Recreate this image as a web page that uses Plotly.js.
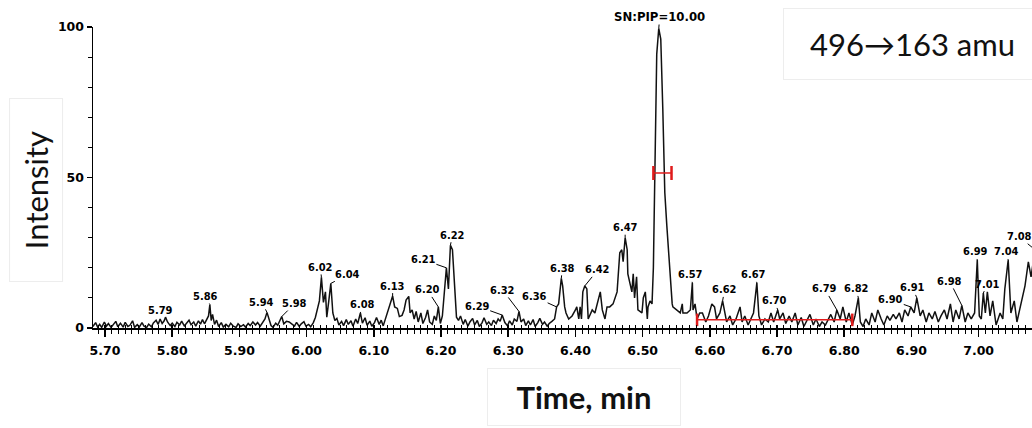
<!DOCTYPE html>
<html><head><meta charset="utf-8">
<script src="https://cdn.plot.ly/plotly-3.0.1.min.js"></script>
<style>html,body{margin:0;padding:0;overflow:hidden;background:#fff}#chart{width:1100px;height:428px}</style>
</head><body><div id="chart"></div><script>
// Retention time (min) and intensity (%)
const time = [
5.682,5.686,5.689,5.692,5.695,5.699,5.702,5.705,5.709,5.712,
5.716,5.719,5.723,5.727,5.730,5.734,5.737,5.741,5.744,5.748,
5.751,5.755,5.758,5.762,5.765,5.769,5.772,5.776,5.779,5.782,
5.785,5.788,5.790,5.793,5.797,5.800,5.804,5.807,5.811,5.814,
5.818,5.821,5.825,5.828,5.832,5.835,5.839,5.842,5.845,5.848,
5.851,5.854,5.856,5.858,5.860,5.863,5.866,5.869,5.873,5.876,
5.880,5.884,5.887,5.891,5.895,5.898,5.902,5.906,5.909,5.913,
5.916,5.920,5.924,5.927,5.931,5.935,5.938,5.941,5.944,5.947,
5.950,5.954,5.957,5.960,5.963,5.966,5.970,5.974,5.978,5.982,
5.985,5.989,5.992,5.996,5.999,6.003,6.006,6.010,6.013,6.016,
6.019,6.022,6.025,6.028,6.030,6.033,6.036,6.039,6.042,6.045,
6.048,6.052,6.055,6.059,6.062,6.066,6.069,6.073,6.076,6.080,
6.083,6.087,6.090,6.094,6.097,6.101,6.104,6.108,6.111,6.114,
6.118,6.121,6.124,6.128,6.131,6.135,6.138,6.142,6.145,6.148,
6.152,6.154,6.157,6.160,6.163,6.166,6.170,6.173,6.177,6.180,
6.183,6.187,6.190,6.193,6.196,6.199,6.202,6.205,6.208,6.211,
6.214,6.217,6.220,6.223,6.226,6.229,6.233,6.236,6.240,6.243,
6.247,6.250,6.254,6.257,6.261,6.264,6.268,6.271,6.275,6.278,
6.282,6.285,6.288,6.291,6.295,6.299,6.302,6.306,6.309,6.313,
6.316,6.319,6.323,6.326,6.330,6.333,6.337,6.340,6.344,6.347,
6.351,6.354,6.358,6.361,6.365,6.369,6.372,6.375,6.379,6.381,
6.384,6.386,6.390,6.395,6.400,6.402,6.405,6.407,6.409,6.411,
6.414,6.417,6.419,6.425,6.429,6.434,6.437,6.440,6.444,6.447,
6.451,6.456,6.462,6.466,6.469,6.471,6.474,6.477,6.478,6.484,
6.486,6.488,6.491,6.493,6.499,6.501,6.504,6.507,6.508,6.511,
6.514,6.516,6.518,6.521,6.524,6.527,6.530,6.533,6.536,6.539,
6.544,6.545,6.551,6.556,6.559,6.560,6.566,6.571,6.574,6.575,
6.578,6.581,6.585,6.589,6.594,6.598,6.603,6.607,6.610,6.615,
6.619,6.622,6.625,6.630,6.634,6.639,6.645,6.648,6.652,6.657,
6.661,6.665,6.670,6.673,6.677,6.682,6.687,6.691,6.695,6.701,
6.704,6.709,6.713,6.718,6.722,6.727,6.731,6.736,6.740,6.745,
6.749,6.754,6.758,6.763,6.767,6.772,6.776,6.780,6.785,6.789,
6.794,6.798,6.803,6.807,6.812,6.816,6.821,6.824,6.828,6.832,
6.837,6.841,6.846,6.850,6.855,6.859,6.864,6.868,6.873,6.877,
6.882,6.886,6.890,6.895,6.899,6.904,6.908,6.913,6.917,6.922,
6.926,6.931,6.935,6.940,6.944,6.949,6.953,6.958,6.962,6.966,
6.971,6.975,6.980,6.984,6.989,6.994,6.998,7.001,7.004,7.007,
7.010,7.013,7.017,7.021,7.026,7.032,7.036,7.039,7.044,7.048,
7.053,7.057,7.061,7.065,7.069,7.074,7.078,7.084,7.091,7.100
];
const intensity = [
0.5,1.8,0.3,1.2,0.2,2.0,0.6,1.5,0.2,1.0,
2.2,0.4,1.6,0.3,1.9,0.5,0.9,2.4,0.2,1.1,
0.3,1.8,0.6,0.2,1.3,0.4,1.7,2.6,1.2,3.0,
1.5,2.4,3.6,2.0,0.8,1.6,0.5,1.9,1.0,2.3,
0.7,1.5,2.6,1.1,2.0,0.6,2.4,1.3,2.8,1.4,
3.0,4.0,7.8,2.5,4.5,1.2,2.6,0.5,1.8,0.3,
1.2,0.4,1.6,0.6,0.2,1.4,0.5,1.1,0.3,1.5,
0.8,2.0,1.0,1.8,0.6,1.9,3.0,5.2,2.5,0.8,
0.2,1.6,0.9,2.4,3.8,1.4,2.2,2.0,1.2,0.6,
1.9,0.5,1.4,2.1,0.6,1.2,0.4,1.8,3.5,6.8,
9.0,16.8,8.5,12.0,3.6,9.0,14.8,5.0,2.5,3.2,
1.0,2.2,0.8,2.8,1.2,2.4,0.6,3.0,1.5,5.0,
1.6,3.4,0.9,2.3,0.6,1.8,3.5,1.2,2.6,0.7,
3.4,6.0,8.0,10.6,7.0,6.5,3.8,4.2,6.0,9.3,
10.5,5.0,6.0,3.0,5.5,2.0,5.0,1.5,3.5,6.0,
2.0,1.2,4.0,2.5,7.0,1.5,4.0,12.5,20.0,13.0,
27.5,26.0,16.0,3.6,2.5,4.0,1.2,2.8,0.6,2.0,
3.2,1.0,2.5,0.5,1.7,3.4,1.2,2.0,0.8,2.6,
1.5,3.0,2.2,4.3,1.8,0.7,2.4,1.0,3.0,2.2,
5.5,2.0,3.0,0.8,2.4,1.0,2.8,0.5,1.8,3.2,
1.2,2.0,0.6,1.5,2.2,3.0,7.0,8.0,16.5,14.0,
7.0,5.0,3.0,4.0,6.0,7.0,3.0,7.0,3.0,12.0,
14.0,13.0,3.0,6.0,5.0,10.0,12.0,6.0,3.0,7.0,
7.0,8.0,12.0,25.0,26.0,22.0,30.0,26.0,18.0,12.0,
18.0,10.0,17.0,6.0,5.0,10.0,12.0,3.0,7.0,9.0,
8.0,20.0,51.0,91.0,99.5,96.0,73.0,45.0,34.0,23.0,
8.0,7.0,6.0,5.0,8.0,5.0,5.0,6.0,15.0,6.0,
8.0,3.0,5.0,5.0,2.0,4.0,8.0,7.0,3.0,5.0,
9.0,6.0,2.0,4.0,1.0,3.0,7.0,2.0,4.0,1.0,
3.0,5.0,15.0,4.0,1.0,3.0,2.0,5.0,2.0,6.0,
3.0,5.0,1.5,4.0,2.0,5.0,1.0,3.5,0.5,2.5,
4.5,1.0,3.0,0.5,2.0,1.0,3.0,4.5,2.0,6.0,
3.0,7.0,2.0,5.0,1.0,4.0,10.0,2.0,0.5,3.0,
1.0,5.0,2.0,6.0,3.0,1.0,4.0,2.5,4.5,3.0,
5.0,2.0,6.0,4.0,7.0,5.0,10.0,4.0,6.0,2.0,
5.0,3.0,5.5,2.0,4.0,6.0,3.0,8.0,2.0,6.0,
3.0,7.5,2.0,5.0,3.0,5.0,22.6,4.0,3.0,11.6,
5.0,12.0,4.0,9.0,1.0,5.0,3.0,13.0,22.6,5.0,
9.0,2.0,6.0,10.0,14.0,22.0,17.0,26.0,10.0,5.0
];

// Labelled peaks
const peakLabels = ["5.79","5.86","5.94","5.98","6.02","6.04","6.08","6.13","6.20","6.21","6.22","6.29","6.32","6.36","6.38","6.42","6.47","SN:PIP=10.00","6.57","6.62","6.67","6.70","6.79","6.82","6.90","6.91","6.98","6.99","7.01","7.04","7.08"];
const peakTimes = [5.790,5.856,5.941,5.963,6.022,6.036,6.080,6.128,6.196,6.208,6.214,6.291,6.316,6.372,6.379,6.414,6.474,6.524,6.574,6.619,6.670,6.701,6.789,6.821,6.899,6.908,6.975,6.998,7.007,7.044,7.084];
const peakHeights = [3.6,7.8,5.2,3.8,16.8,14.8,5.0,10.6,7.0,20.0,27.5,4.3,5.5,7.0,16.5,14.0,30.0,99.5,15.0,9.0,15.0,6.0,6.0,10.0,7.0,10.0,7.5,22.6,11.6,22.6,26.0];
// label offsets from the peak, in pixels (layout)
const labelDX = [-5,-4,-5,13,-1,17,2,0,-11,-23,2,-25,-16,-22,1,13,0,1,-2,2,-3,-3,-12,-2,-20,-4,-12,-2,4,-2,-16];
const labelDY = [-7,-8,-10,-13,-10,-9,-8,-10,-17,-8,-10,-9,-21,-10,-10,-16,-10,-12,-8,-11,-8,-9,-21,-9,-7,-10,-24,-8,-9,-8,-13];

// Peak-width marker at half height and baseline marker
const fwhmTimes = [6.516, 6.543];
const fwhmLevel = 51.5;
const baseTimes = [6.581, 6.812];
const baseLevel = 2.7;

const xTickVals = [5.7,5.8,5.9,6.0,6.1,6.2,6.3,6.4,6.5,6.6,6.7,6.8,6.9,7.0];
const yTickVals = [0, 50, 100];

const xRange = [5.6821, 7.1211];
const tickFont = {family: "DejaVu Sans, Arial, sans-serif", size: 12.5, color: "#000", weight: "bold"};
const labFont = {family: "DejaVu Sans Condensed, DejaVu Sans, sans-serif", size: 11, color: "#000", weight: "bold"};

const traces = [
  {x: time, y: intensity, type: "scatter", mode: "lines", line: {color: "#111", width: 1.5}, hoverinfo: "skip"},
  {x: fwhmTimes, y: fwhmTimes.map(() => fwhmLevel), type: "scatter", mode: "lines+markers",
   line: {color: "#e01b1b", width: 1.5}, marker: {symbol: "line-ns-open", size: 10, color: "#e01b1b", line: {width: 2.5, color: "#e01b1b"}}},
  {x: baseTimes, y: baseTimes.map(() => baseLevel), type: "scatter", mode: "lines+markers", xaxis: "x2",
   line: {color: "#e01b1b", width: 1.5}, marker: {symbol: "line-ns-open", size: 9, color: "#e01b1b", line: {width: 2.5, color: "#e01b1b"}}}
];

const annotations = peakLabels.map((t, i) => ({
  x: peakTimes[i], y: peakHeights[i], xref: "x", yref: "y", text: t,
  showarrow: true, arrowhead: 0, arrowwidth: 1, arrowcolor: "#000",
  ax: labelDX[i], ay: labelDY[i], borderpad: 0,
  font: i === 17 ? Object.assign({}, labFont, {size: 13}) : labFont
}));

annotations.push({
  xref: "paper", yref: "paper", x: -0.0589, y: 0.4585, xanchor: "center", yanchor: "middle",
  text: "Intensity", textangle: -90,
  showarrow: false, font: {family: "Lato, Open Sans, sans-serif", size: 31, color: "#111"},
  bgcolor: "#fff", bordercolor: "#ededed", borderwidth: 1, width: 180, height: 50
});
annotations.push({
  xref: "paper", yref: "paper", x: 0.5078, y: -0.229, xanchor: "center", yanchor: "middle",
  text: "<b>Time, min</b>",
  showarrow: false, font: {family: "Lato, Open Sans, sans-serif", size: 31, color: "#111"},
  bgcolor: "#fff", bordercolor: "#ededed", borderwidth: 1, width: 190, height: 54
});
annotations.push({
  xref: "paper", yref: "paper", x: 0.847, y: 0.9435, xanchor: "center", yanchor: "middle",
  text: "496\u2192163 amu",
  showarrow: false, font: {family: "Lato, Open Sans, sans-serif", size: 31, color: "#111"},
  bgcolor: "#fff", bordercolor: "#ededed", borderwidth: 1, width: 255, height: 68
});

const layout = {
  width: 1100, height: 428,
  margin: {l: 93, r: 40, t: 27, b: 100},
  paper_bgcolor: "#fff", plot_bgcolor: "#fff",
  showlegend: false,
  xaxis: {
    range: xRange, showgrid: false, zeroline: false,
    showline: true, linecolor: "#000", linewidth: 1.5,
    ticks: "outside", ticklen: 7, tickwidth: 1.5, tickcolor: "#000",
    tickvals: xTickVals, ticktext: xTickVals.map(v => v.toFixed(2)), tickfont: tickFont, ticklabelstandoff: 3,
    minor: {dtick: 0.01, tick0: 5.7, ticks: "outside", ticklen: 4, tickwidth: 1, tickcolor: "#000"}
  },
  xaxis2: {
    range: xRange, overlaying: "x", anchor: "y", side: "bottom",
    showgrid: false, zeroline: false, showline: false, showticklabels: false,
    ticks: "inside", ticklen: 3, tickwidth: 1.5, tickcolor: "#000", tickvals: xTickVals,
    minor: {dtick: 0.01, tick0: 5.7, ticks: "inside", ticklen: 3, tickwidth: 1, tickcolor: "#000"}
  },
  yaxis: {
    range: [0, 100], showgrid: false, zeroline: false,
    showline: true, linecolor: "#000", linewidth: 1.5,
    ticks: "outside", ticklen: 5, tickwidth: 1.5, tickcolor: "#000",
    tickvals: yTickVals, tickfont: tickFont,
    minor: {dtick: 10, tick0: 0, ticks: "outside", ticklen: 4, tickwidth: 1, tickcolor: "#000"}
  },
  annotations: annotations
};

Plotly.newPlot("chart", traces, layout, {displayModeBar: false, staticPlot: true});
</script></body></html>
